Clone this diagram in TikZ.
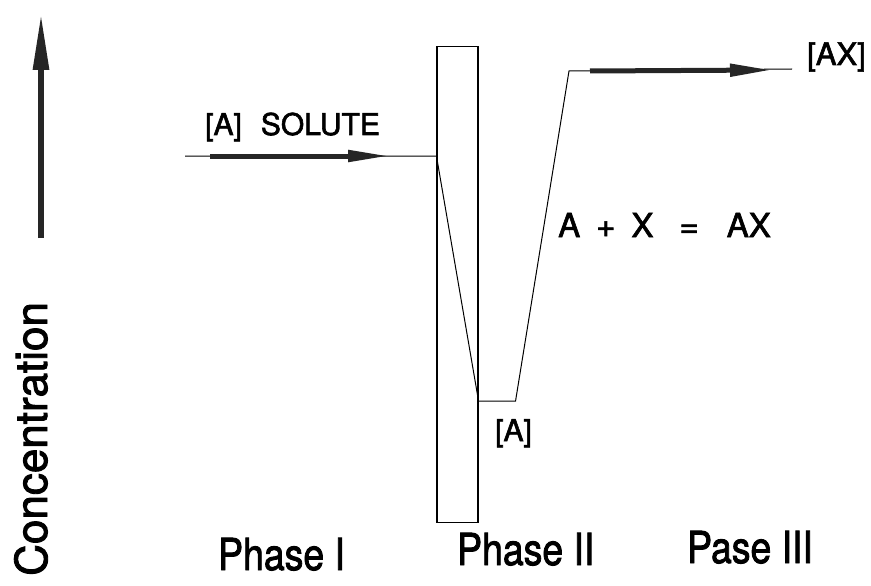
\documentclass[tikz,border=0pt]{standalone}
\usepackage{fontspec}
\setmainfont{TeX Gyre Heros}[FakeBold=2]
\usetikzlibrary{arrows.meta, positioning, calc}
\tikzset{
  thin line/.style={line width=1pt, black},
  flux arr/.style={line width=5pt, black!85, -{Triangle[length=42pt, width=11pt]}},
  wall box/.style={rectangle, draw, line width=1.1pt, minimum width=41pt, minimum height=476pt, inner sep=0pt},
  lbl/.style={inner sep=0pt, anchor=base west, font=\fontsize{30}{30}\selectfont},
  phase lbl/.style={inner sep=0pt, anchor=base west, font=\fontsize{44}{44}\selectfont, xscale=0.85, transform shape},
}

\begin{document}
\begin{tikzpicture}[x=1pt, y=-1pt]
  \useasboundingbox (0,0) rectangle (871,586);

  % Concentration axis
  \coordinate (axBot) at (41,238);
  \coordinate (axTop) at (41,13);
  \draw[flux arr, line width=6pt, -{Triangle[length=57pt, width=15pt]}] (axBot) -- (axTop);
  \node[lbl, font=\fontsize{44}{44}\selectfont, rotate=90] (conc) at (47,576) {Concentration};

  % Membrane and profile
  \node[wall box] (wall) at (457.5,284.5) {};
  \coordinate (solIn) at (185,156);
  \coordinate (wallIn) at (wall.west |- solIn);
  \coordinate (wallOut) at ($(wall.east |- solIn)+(0,245)$);
  \coordinate (lowEnd) at ($(wallOut)+(37,0)$);
  \coordinate (topBend) at (569,71);
  \coordinate (prodEnd) at (792,69);
  \draw[thin line] (solIn) -- (wallIn) -- (wallOut) -- (lowEnd) -- (topBend) -- (prodEnd);

  % Flux arrows
  \coordinate (solA) at (210,156);
  \coordinate (solB) at (390,156);
  \coordinate (prodA) at (590,71);
  \coordinate (prodB) at (772,70);
  \draw[flux arr] (solA) -- (solB);
  \draw[flux arr, -{Triangle[length=42pt, width=12pt]}] (prodA) -- (prodB);

  % Labels
  \node[lbl] (solute) at (205,135) {[A]\hspace{19pt}SOLUTE};
  \node[lbl, font=\fontsize{33}{33}\selectfont] (react) at (558,237) {A\hspace{16pt}+\hspace{16pt}X\hspace{26pt}=\hspace{28pt}AX};
  \node[lbl, font=\fontsize{31}{31}\selectfont] (prod) at (807,65) {[AX]};
  \node[lbl] (lowA) at (495,441) {[A]};
  \node[phase lbl] (ph1) at (218,570) {Phase I};
  \node[phase lbl] (ph2) at (457,565) {Phase II};
  \node[phase lbl] (ph3) at (687,563) {Pase III};
\end{tikzpicture}
\end{document}
